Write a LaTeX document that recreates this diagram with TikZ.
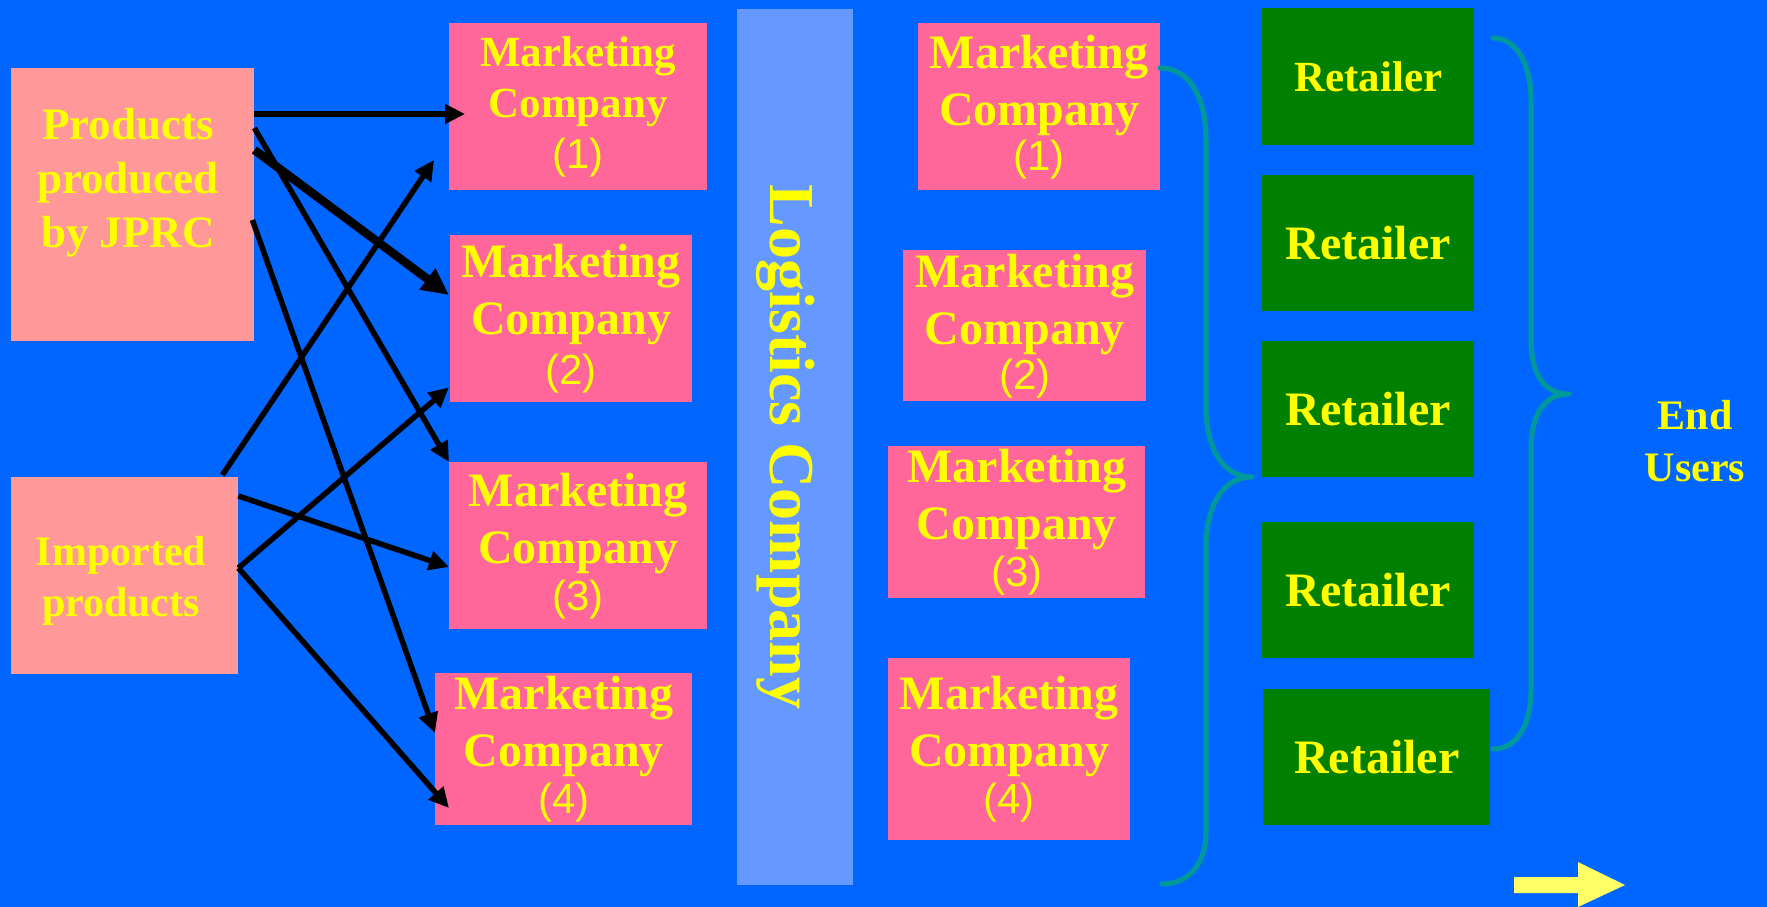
\documentclass[tikz,border=0pt]{standalone}
\usepackage{fontspec}
\setmainfont{Liberation Serif}
\newfontfamily\numfont{Liberation Sans}
\usetikzlibrary{arrows.meta,calc}

\definecolor{bgblue}{RGB}{0,102,255}
\definecolor{srcpink}{RGB}{255,153,153}
\definecolor{mkpink}{RGB}{255,102,153}
\definecolor{barblue}{RGB}{102,153,255}
\definecolor{retgreen}{RGB}{0,128,0}
\definecolor{txtyellow}{RGB}{255,255,0}
\definecolor{braceteal}{RGB}{0,153,153}
\definecolor{arrowyellow}{RGB}{255,255,102}

% three-line label of a marketing company box
\newcommand{\mklabel}[2][-10pt]{Marketing\\Company\\[#1]{\numfont\mdseries\fontsize{42}{42}\selectfont(#2)}}

\begin{document}
\begin{tikzpicture}[x=1pt, y=-1pt,
    box/.style={anchor=north west, inner sep=0pt, text=txtyellow, align=center},
    srcbox/.style={box, fill=srcpink},
    srctext/.style={text=txtyellow, align=center},
    mkbox/.style={box, fill=mkpink, font=\bfseries\fontsize{48}{57}\selectfont},
    retbox/.style={box, fill=retgreen, font=\bfseries\fontsize{48}{57}\selectfont},
    flow/.style={line width=5.5pt, -{Triangle[length=20pt,width=19pt]}},
    bigflow/.style={line width=8.5pt, -{Triangle[length=27pt,width=25pt]}},
    brace/.style={draw=braceteal, line width=5pt, line cap=round, line join=round}]

    % Background
    \useasboundingbox (0,0) rectangle (1767,907);
    \fill[bgblue] (0,0) rectangle (1767,907);

    % Sources
    \node[srcbox, minimum width=243, minimum height=273] (prod) at (11,68) {};
    \node[srctext, font=\bfseries\fontsize{45}{54}\selectfont] (prodtxt) at (128,183) {Products\\produced\\by JPRC};
    \node[srcbox, minimum width=227, minimum height=197] (imp) at (11,477) {};
    \node[srctext, font=\bfseries\fontsize{42}{51}\selectfont] (imptxt) at (121,581) {Imported\\products};

    % Marketing companies (left column)
    \node[mkbox, minimum width=258, minimum height=167, font=\bfseries\fontsize{43}{51}\selectfont] (mkl1) at (449,23) {\mklabel[0pt]{1}};
    \node[mkbox, minimum width=242, minimum height=167] (mkl2) at (450,235) {\mklabel[-7pt]{2}};
    \node[mkbox, minimum width=258, minimum height=167] (mkl3) at (449,462) {\mklabel{3}};
    \node[mkbox, minimum width=257, minimum height=152] (mkl4) at (435,673) {\mklabel{4}};

    % Logistics bar
    \node[fill=barblue, anchor=north west, inner sep=0pt, minimum width=116, minimum height=876] (logi) at (737,9) {};
    \node[rotate=-90, anchor=base, text=txtyellow, font=\bfseries\fontsize{64}{64}\selectfont] (logitxt) at (770,447) {Logistics Company};

    % Marketing companies (right column)
    \node[mkbox, minimum width=242, minimum height=167] (mkr1) at (918,23) {\mklabel[-12pt]{1}};
    \node[mkbox, minimum width=243, minimum height=151] (mkr2) at (903,250) {\mklabel[-12pt]{2}};
    \node[mkbox, minimum width=257, minimum height=152] (mkr3) at (888,446) {\mklabel{3}};
    \node[mkbox, minimum width=242, minimum height=182] (mkr4) at (888,658) {\mklabel{4}};

    % Retailers
    \node[retbox, minimum width=212, minimum height=137, font=\bfseries\fontsize{43}{43}\selectfont] (ret1) at (1262,8) {Retailer};
    \node[retbox, minimum width=212, minimum height=136] (ret2) at (1262,175) {Retailer};
    \node[retbox, minimum width=212, minimum height=136] (ret3) at (1262,341) {Retailer};
    \node[retbox, minimum width=212, minimum height=136] (ret4) at (1262,522) {Retailer};
    \node[retbox, minimum width=227, minimum height=136] (ret5) at (1263,689) {Retailer};

    % End users
    \node[srctext, font=\bfseries\fontsize{42}{52}\selectfont] (endu) at (1695,441) {End\\Users};

    % Flows from JPRC
    \draw[flow] ($(prod.north east)+(0,46)$) -- ($(mkl1.north west)+(16,91)$);
    \draw[bigflow] ($(prod.north east)+(0,82)$) -- ($(mkl2.north west)+(-1,60)$);
    \draw[flow] ($(prod.north east)+(0,60)$) -- (mkl3.north west);
    \draw[flow] ($(prod.north east)+(-2,152)$) -- ($(mkl4.north west)+(0,60)$);

    % Flows from imports
    \coordinate (impout) at ($(imp.north east)+(0,91)$);
    \draw[flow] ($(imp.north east)+(-16,-2)$) -- ($(mkl1.north west)+(-15,137)$);
    \draw[flow] (impout) -- ($(mkl2.south west)+(-1,-15)$);
    \draw[flow] ($(imp.north east)+(0,19)$) -- ($(mkl3.north west)+(0,105)$);
    \draw[flow] (impout) -- ($(mkl4.north west)+(14,135)$);

    % Braces
    \draw[brace] (1160,68) .. controls (1188,68) and (1206,95) .. (1206,140)
        -- (1206,407) .. controls (1206,447) and (1222,477) .. (1252,477)
        .. controls (1222,477) and (1206,507) .. (1206,547)
        -- (1206,833) .. controls (1206,862) and (1190,884) .. (1162,884);
    \draw[brace] (1493,38) .. controls (1517,38) and (1531,65) .. (1531,100)
        -- (1531,340) .. controls (1531,375) and (1545,394) .. (1569,394)
        .. controls (1545,394) and (1531,413) .. (1531,450)
        -- (1531,690) .. controls (1531,725) and (1517,749) .. (1493,749);

    % Arrow to the end users
    \fill[arrowyellow] (1514,877) -- (1578,877) -- (1578,862) -- (1625,885)
        -- (1578,907) -- (1578,893) -- (1514,893) -- cycle;
\end{tikzpicture}
\end{document}
